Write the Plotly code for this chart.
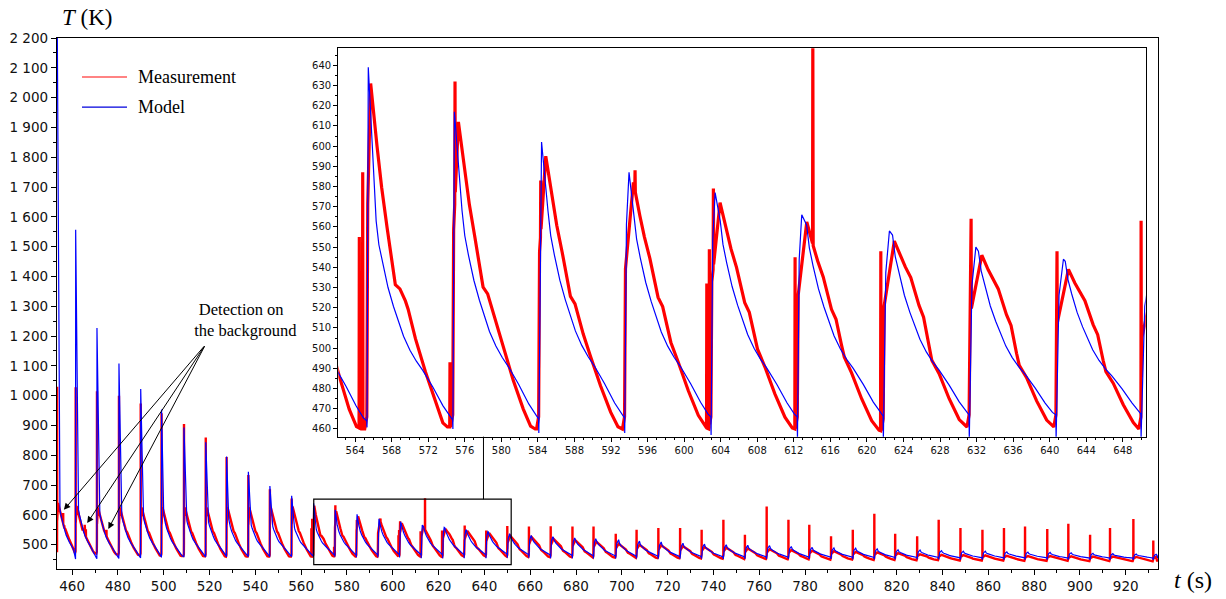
import numpy as np
import plotly.graph_objects as go

# ---------------- data ----------------
# jump (start) time of every heating cycle, s
cycle_start = [453.4, 461.5, 470.8, 480.4, 489.9, 499.0, 508.8, 518.3, 527.4, 536.9, 546.3, 555.8,
               565.3, 574.7, 584.1, 593.5, 602.95, 612.4, 621.8, 631.2, 640.7, 650.0,
               659.4, 668.9, 678.4, 687.6, 697.3, 706.4, 715.9, 725.4, 734.8, 744.3, 753.7,
               763.2, 772.7, 781.8, 791.3, 800.8, 810.2, 819.3, 828.9, 838.3, 847.8, 857.4,
               866.8, 876.0, 885.7, 894.9, 904.4, 913.1, 923.3, 932.0]
data_end = 934.0

# model (blue)
model_peak = [2400, 1557, 1227, 1108, 1022, 954, 893, 844, 796, 745, 697, 664,
              639, 617, 602, 587, 577, 566, 558, 550, 544,
              537, 531, 527, 523, 520, 517, 512, 509, 505, 502, 500, 498, 497, 494, 491,
              489, 488, 486, 483, 482, 480, 478, 478, 476, 475, 474, 473, 471, 470, 469, 468]
model_peak_dt = [0.05] * 12 + [0.14, 0.16, 0.3, 0.47, 0.44, 0.47, 0.66, 0.72, 0.8] + [1.0] * 5 + [1.3] * 26
model_s1 = [640, 640, 625, 615, 608, 602, 596, 590, 585, 580, 575, 568,
            563, 568, 568, 566, 563, 561, 556, 548, 543,
            536, 530, 526, 522, 519, 516, 511, 508, 504, 501, 499, 497, 496, 493, 490,
            488, 487, 485, 482, 481, 479, 477, 477, 475, 474, 473, 472, 470, 469, 468, 467]
model_end = [453, 454, 455, 457, 459, 460, 461, 462, 462, 463, 463, 464,
             464.5, 465, 465.5, 466, 466, 466.5, 467, 467, 467.5,
             466, 465, 464, 463, 462, 461, 461, 460, 460, 459, 459, 459, 458, 458, 458,
             458, 457, 457, 457, 457, 456, 456, 456, 456, 456, 455, 455, 455, 455, 455, 455]
model_dip = [2400, 452, 453, 454, 456, 457, 458, 459, 459, 460, 460, 460,
             460.8, 460, 458, 458, 457, 455, 455, 455, 455,
             456, 456, 455, 455, 454, 454, 454, 453, 453, 453, 452, 452, 452, 452, 452,
             452, 451, 451, 451, 451, 451, 450, 450, 450, 450, 450, 450, 449, 449, 449, 449]
# model decay after the peak (fraction between value at 1 s and cycle end)
model_prof_dt = [1.0, 1.3, 1.7, 2.3, 2.9, 3.4, 4.0, 4.7, 5.4, 6.1, 7.2, 8.3, 9.1]
model_prof_f = [1.0, 0.88, 0.787, 0.665, 0.57, 0.503, 0.42, 0.350, 0.295, 0.249, 0.165, 0.072, 0.015]

# measurement (red)
meas_start = 475
meas_peak = [640, 630, 625, 625, 625, 625, 625, 625, 625, 625, 625, 628,
             631, 612, 595, 582, 572, 562.5, 553, 546, 539,
             530, 525, 520, 515, 510, 503, 500, 498, 495, 492, 490, 487, 485, 482, 480,
             478, 476, 474, 472, 468, 466, 465, 464, 463, 462, 462, 461, 460, 460, 459, 459]
meas_peak_dt = [0.45] * 12 + [0.4, 0.6, 0.76, 0.95, 0.98, 1.02, 1.2, 1.37, 1.35] + [1.3] * 31
meas_end = [472, 470, 467, 465, 463, 462, 461, 460, 460, 460, 460, 460,
            461, 460, 460, 460, 460, 459, 461, 461, 460,
            459, 458, 458, 457, 457, 456, 455, 455, 454, 453, 452, 452, 451, 451, 450,
            450, 449, 449, 448, 448, 447, 447, 447, 446, 446, 446, 445, 445, 445, 444, 444]
meas_shape_w = [0.4] * 12 + [0, 0.2, 0.3, 0.5, 0.6, 0.7, 1, 1, 1] + [1] * 31
# two decay shapes after the peak (cycle at 565 s and cycle at 622 s)
meas_prof_tau = [0.7, 1.2, 1.8, 2.7, 3.2, 3.8, 4.1, 4.9, 6.0, 7.1, 7.9, 8.4]
meas_prof_fA = [0.817, 0.698, 0.580, 0.414, 0.402, 0.367, 0.343, 0.257, 0.160, 0.071, 0.012, 0.0]
meas_prof_fB = [0.915, 0.861, 0.804, 0.654, 0.591, 0.429, 0.359, 0.287, 0.152, 0.040, 0.0, 0.0]
# narrow spikes of the measurement
spike_t = [453.45, 461.55, 470.85, 480.45, 489.95, 499.05, 508.85, 518.35, 527.45, 536.95, 546.35, 555.85,
           456.1, 456.6, 464.6, 465.5, 466.0, 474.3, 475.0,
           564.46, 564.83, 574.38, 574.93, 584.31, 594.63, 602.48, 602.76, 603.2, 612.14, 614.08,
           621.52, 631.4, 640.8, 650.0,
           659.45, 668.95, 678.45, 687.65, 697.35, 706.45, 715.95, 725.45, 734.85, 744.35, 753.75,
           763.25, 772.75, 781.85, 791.35, 800.85, 810.25, 819.35, 828.95, 838.35, 847.85, 857.45,
           866.85, 876.05, 885.75, 894.95, 904.45, 913.15, 923.35, 932.05]
spike_T = [1030, 1028, 1015, 1000, 974, 941, 905, 860, 794, 734, 686, 655,
           606, 565, 548, 567, 552, 540, 550,
           555, 587, 493, 632, 583, 588, 532, 549, 579, 545, 656,
           548, 564, 548, 563,
           561, 562, 561, 561, 537, 550, 556, 556, 550, 584, 533,
           628, 584, 567, 528, 550, 604, 537, 528, 584, 556, 550,
           556, 561, 553, 570, 533, 556, 586, 514]

# ---------------- build the curves from the values ----------------
n = len(cycle_start)


def build_model():
    ts, vs = [], []
    for i in range(n):
        t0 = cycle_start[i]
        t1 = cycle_start[i + 1] if i + 1 < n else data_end
        P, pk, S1, L, D = model_peak[i], model_peak_dt[i], model_s1[i], model_end[i], model_dip[i]
        ts.append(t0); vs.append(D)
        if pk >= 0.4:
            ts.append(t0 + 0.4 * pk); vs.append(D + 0.8 * (P - D))
        ts.append(t0 + pk); vs.append(P)
        for dt, f in zip(model_prof_dt, model_prof_f):
            if dt > pk + 0.05 and t0 + dt < t1 - 0.1:
                ts.append(t0 + dt); vs.append(L + f * (S1 - L))
        ts.append(t1 - 0.03); vs.append(L)
    return np.array(ts), np.array(vs)


def build_meas():
    ts, vs = [cycle_start[0]], [meas_start]
    for i in range(n):
        t0 = cycle_start[i]
        t1 = cycle_start[i + 1] if i + 1 < n else data_end
        RP, pk, RL, w = meas_peak[i], meas_peak_dt[i], meas_end[i], meas_shape_w[i]
        ts.append(t0 + 0.08); vs.append(RL + 0.65 * (RP - RL))
        ts.append(t0 + pk); vs.append(RP)
        for tau, fa, fb in zip(meas_prof_tau, meas_prof_fA, meas_prof_fB):
            t = t0 + pk + tau
            if t < t1 - 0.3:
                ts.append(t); vs.append(RL + (RP - RL) * ((1 - w) * fa + w * fb))
        ts.append(t1 - 0.25); vs.append(RL)
        ts.append(t1 - 0.02); vs.append(RL + 6)
    bt, bv = np.array(ts), np.array(vs)
    allt, allv = list(bt), list(bv)
    for st, sv in zip(spike_t, spike_T):
        b1 = float(np.interp(st - 0.03, bt, bv))
        b2 = float(np.interp(st + 0.03, bt, bv))
        allt += [st - 0.03, st, st + 0.03]
        allv += [b1, sv, b2]
    order = np.argsort(np.array(allt), kind="stable")
    return np.array(allt)[order], np.array(allv)[order]


mt, mv = build_model()
rt, rv = build_meas()

RED = "#ff0000"
BLUE = "#0000ff"
SERIF = "Liberation Serif"

fig = go.Figure()
fig.add_trace(go.Scatter(x=rt, y=rv, mode="lines", line=dict(color=RED, width=2.4), xaxis="x", yaxis="y",
                         name="Measurement", hoverinfo="skip"))
fig.add_trace(go.Scatter(x=mt, y=mv, mode="lines", line=dict(color=BLUE, width=1.2), xaxis="x", yaxis="y",
                         name="Model", hoverinfo="skip"))
fig.add_trace(go.Scatter(x=rt, y=rv, mode="lines", line=dict(color=RED, width=3.2), xaxis="x2", yaxis="y2",
                         showlegend=False, hoverinfo="skip"))
fig.add_trace(go.Scatter(x=mt, y=mv, mode="lines", line=dict(color=BLUE, width=1.2), xaxis="x2", yaxis="y2",
                         showlegend=False, hoverinfo="skip"))

axis_common = dict(showline=True, mirror=True, linecolor="black", showgrid=False, zeroline=False,
                   ticks="outside", tickcolor="black", layer="below traces", automargin=False)

fig.update_layout(
    width=1226, height=599,
    margin=dict(l=57, r=68, t=38, b=30, autoexpand=False),
    paper_bgcolor="white", plot_bgcolor="white",
    showlegend=False,
    separators=". ",
    font=dict(family="DejaVu Sans", color="#111111"),
    xaxis=dict(range=[453.4, 934.1], tickmode="linear", tick0=460, dtick=20, ticklen=5, tickwidth=1,
               linewidth=1.4, tickfont=dict(size=13.5),
               minor=dict(tickmode="linear", tick0=450, dtick=10, ticklen=3, ticks="outside", tickcolor="black"),
               **axis_common),
    yaxis=dict(range=[418.5, 2200], tickmode="linear", tick0=0, dtick=100, tickformat=",d", ticklen=5,
               linewidth=1.4, tickfont=dict(size=13.5),
               minor=dict(tickmode="linear", tick0=0, dtick=50, ticklen=3, ticks="outside", tickcolor="black"),
               **axis_common),
    xaxis2=dict(domain=[0.2555, 0.9888], anchor="y2", range=[562.16, 650.5], tickmode="linear", tick0=564,
                dtick=4, ticklen=4, linewidth=1.2, tickfont=dict(size=10),
                minor=dict(tickmode="linear", tick0=562, dtick=1, ticklen=2, ticks="outside", tickcolor="black"),
                **axis_common),
    yaxis2=dict(domain=[0.2492, 0.9806], anchor="x2", range=[456.2, 648.4], tickmode="linear", tick0=460,
                dtick=10, ticklen=4, linewidth=1.2, tickfont=dict(size=10),
                minor=dict(tickmode="linear", tick0=460, dtick=5, ticklen=2, ticks="outside", tickcolor="black"),
                **axis_common),
)

shapes = [
    dict(type="rect", xref="x2 domain", yref="y2 domain", x0=0, x1=1, y0=0, y1=1, fillcolor="white",
         line=dict(width=0), layer="below"),
    dict(type="rect", xref="x", yref="y", x0=565.5, x1=651.7, y0=433, y1=653,
         line=dict(color="black", width=1.2)),
    dict(type="line", xref="x", yref="paper", x0=639.6, x1=639.6, y0=0.1313, y1=0.2492,
         line=dict(color="black", width=1)),
    dict(type="line", xref="paper", yref="paper", x0=0.0227, x1=0.0636, y0=0.9266, y1=0.9266,
         line=dict(color="#ff5a5a", width=1.5)),
    dict(type="line", xref="paper", yref="paper", x0=0.0227, x1=0.0636, y0=0.870, y1=0.870,
         line=dict(color="#0000dd", width=1.2)),
]
fig.update_layout(shapes=shapes)

ann = [
    dict(text="<i>T</i> (K)", xref="paper", yref="paper", x=0.0272, y=1.0377, showarrow=False,
         xanchor="center", yanchor="middle", font=dict(family=SERIF, size=23, color="black")),
    dict(text="<i>t</i> (s)", xref="paper", yref="paper", x=1.0318, y=-0.0207, showarrow=False,
         xanchor="center", yanchor="middle", font=dict(family=SERIF, size=24, color="black")),
    dict(text="Measurement", xref="paper", yref="paper", x=0.0718, y=0.9266, showarrow=False,
         xanchor="left", yanchor="middle", font=dict(family=SERIF, size=18, color="black")),
    dict(text="Model", xref="paper", yref="paper", x=0.0718, y=0.870, showarrow=False,
         xanchor="left", yanchor="middle", font=dict(family=SERIF, size=18, color="black")),
    dict(text="Detection on<br>&nbsp;&nbsp;the background", xref="paper", yref="paper", x=0.168, y=0.469,
         showarrow=False, xanchor="center", yanchor="middle", align="center",
         font=dict(family=SERIF, size=16.5, color="black")),
]
for hx, hy, ax, ay in [(456.4, 617, 141.5, -165), (466.6, 572.6, 118.2, -178.3), (475.8, 552.6, 97.1, -184.3)]:
    ann.append(dict(text="", x=hx, y=hy, xref="x", yref="y", showarrow=True, ax=ax, ay=ay,
                    arrowhead=2, arrowsize=1.3, arrowwidth=1, arrowcolor="black", standoff=0))
fig.update_layout(annotations=ann)

fig.write_html("out.html", config={"displayModeBar": False},
               post_script="document.body.style.margin='0px';document.body.style.padding='0px';")
